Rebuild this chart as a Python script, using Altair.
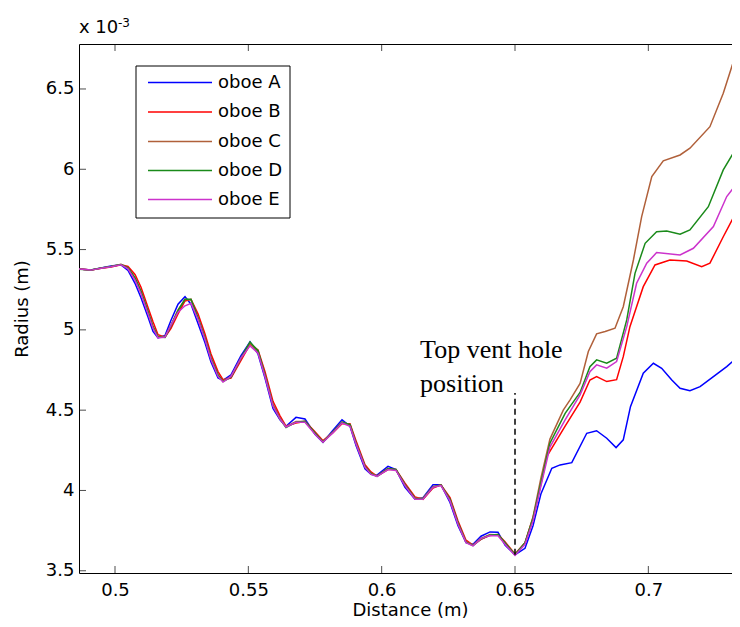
import altair as alt
import pandas as pd

# ---------------- data (radius in units of 1e-3 m) ----------------
series_names = ["oboe A", "oboe B", "oboe C", "oboe D", "oboe E"]
series_colors = ["#0000ff", "#ff0000", "#b0603a", "#1a8a1a", "#cc33cc"]

dist_common = [0.4865, 0.4910, 0.49475, 0.4985, 0.50225, 0.50488, 0.5075, 0.50975, 0.51238,
               0.51425, 0.51613, 0.51875, 0.521, 0.52363, 0.52625, 0.5285, 0.53113, 0.53375,
               0.536, 0.53863, 0.5405, 0.5435, 0.54725, 0.55063, 0.55363, 0.55625, 0.55925,
               0.56188, 0.56413, 0.56788, 0.57125, 0.575, 0.578, 0.58175, 0.58513, 0.58813,
               0.59038, 0.59375, 0.596, 0.59825, 0.60238, 0.60538, 0.60875, 0.6125, 0.6155,
               0.61925, 0.62225, 0.62563, 0.62863, 0.63163, 0.63425, 0.63725, 0.64063,
               0.64363, 0.64625, 0.65, 0.65375, 0.65675, 0.65975]

rad_A_common = [5.379, 5.373, 5.386, 5.397, 5.405, 5.37, 5.29, 5.20, 5.08, 4.99, 4.95, 4.965,
                5.06, 5.16, 5.207, 5.16, 5.04, 4.92, 4.80, 4.70, 4.685, 4.72, 4.84, 4.925,
                4.85, 4.70, 4.51, 4.44, 4.40, 4.455, 4.445, 4.35, 4.30, 4.375, 4.44, 4.40,
                4.28, 4.135, 4.10, 4.095, 4.15, 4.13, 4.02, 3.945, 3.955, 4.035, 4.035, 3.925,
                3.78, 3.675, 3.665, 3.715, 3.742, 3.74, 3.66, 3.60, 3.64, 3.78, 3.98]
rad_B_common = [5.379, 5.372, 5.383, 5.392, 5.406, 5.395, 5.345, 5.265, 5.14, 5.05, 4.97,
                4.955, 5.01, 5.10, 5.18, 5.19, 5.10, 4.975, 4.85, 4.74, 4.69, 4.70, 4.81,
                4.91, 4.875, 4.74, 4.555, 4.465, 4.40, 4.42, 4.43, 4.365, 4.31, 4.36, 4.415,
                4.415, 4.31, 4.16, 4.115, 4.09, 4.13, 4.13, 4.045, 3.96, 3.945, 4.015, 4.035,
                3.955, 3.81, 3.69, 3.66, 3.695, 3.72, 3.725, 3.68, 3.605, 3.675, 3.83, 4.04]
rad_C_common = [5.379, 5.373, 5.384, 5.394, 5.408, 5.384, 5.32, 5.238, 5.113, 5.02, 4.958,
                4.958, 5.03, 5.124, 5.19, 5.186, 5.072, 4.948, 4.823, 4.719, 4.682, 4.709,
                4.823, 4.917, 4.864, 4.719, 4.532, 4.45, 4.397, 4.429, 4.429, 4.356, 4.304,
                4.366, 4.425, 4.408, 4.294, 4.148, 4.107, 4.09, 4.138, 4.127, 4.034, 3.951,
                3.951, 4.024, 4.034, 3.941, 3.796, 3.681, 3.66, 3.702, 3.725, 3.723, 3.671,
                3.604, 3.671, 3.835, 4.08]
rad_D_common = [5.378, 5.373, 5.385, 5.394, 5.407, 5.386, 5.325, 5.24, 5.115, 5.02, 4.955,
                4.952, 5.025, 5.12, 5.19, 5.19, 5.075, 4.95, 4.825, 4.72, 4.678, 4.705, 4.825,
                4.925, 4.87, 4.72, 4.53, 4.445, 4.392, 4.425, 4.43, 4.358, 4.302, 4.362, 4.425,
                4.41, 4.296, 4.15, 4.105, 4.088, 4.135, 4.13, 4.036, 3.95, 3.948, 4.022, 4.034,
                3.944, 3.798, 3.678, 3.656, 3.698, 3.722, 3.725, 3.674, 3.60, 3.675, 3.825, 4.05]
rad_E_common = [5.379, 5.372, 5.383, 5.393, 5.405, 5.38, 5.31, 5.225, 5.10, 5.01, 4.95,
                4.955, 5.03, 5.11, 5.15, 5.165, 5.065, 4.94, 4.815, 4.71, 4.675, 4.71, 4.825,
                4.90, 4.855, 4.71, 4.525, 4.445, 4.395, 4.425, 4.425, 4.35, 4.30, 4.36, 4.42,
                4.40, 4.29, 4.145, 4.10, 4.088, 4.13, 4.125, 4.03, 3.945, 3.945, 4.02, 4.03,
                3.935, 3.79, 3.675, 3.655, 3.70, 3.72, 3.718, 3.665, 3.595, 3.665, 3.81, 4.03]

dist_A_tail = [0.6638, 0.6669, 0.6713, 0.6769, 0.6806, 0.6844, 0.6879, 0.6906, 0.6933,
               0.6981, 0.7019, 0.7050, 0.7088, 0.7119, 0.7156, 0.7194, 0.7244, 0.7294, 0.7337]
rad_A_tail = [4.138, 4.159, 4.173, 4.356, 4.372, 4.325, 4.267, 4.315, 4.522,
              4.73, 4.792, 4.761, 4.688, 4.636, 4.621, 4.646, 4.709, 4.771, 4.833]

dist_B_tail = [0.6619, 0.6688, 0.6744, 0.6781, 0.6806, 0.6844, 0.6881, 0.6906, 0.6931,
               0.6981, 0.7025, 0.7081, 0.7144, 0.7200, 0.7231, 0.7281, 0.7337]
rad_B_tail = [4.211, 4.40, 4.55, 4.688, 4.709, 4.678, 4.69, 4.833, 5.02,
              5.269, 5.404, 5.435, 5.429, 5.393, 5.415, 5.58, 5.757]

dist_C_tail = [0.6631, 0.6681, 0.6706, 0.6744, 0.6775, 0.6806, 0.6838, 0.6875, 0.6906,
               0.6944, 0.6975, 0.7013, 0.7056, 0.7119, 0.7156, 0.7231, 0.7281, 0.7337]
rad_C_tail = [4.32, 4.50, 4.563, 4.667, 4.865, 4.975, 4.99, 5.01, 5.144,
              5.435, 5.705, 5.954, 6.052, 6.089, 6.131, 6.265, 6.473, 6.763]

dist_D_tail = [0.6631, 0.6688, 0.6744, 0.6781, 0.6806, 0.6844, 0.6881, 0.6919, 0.6950,
               0.6988, 0.7031, 0.7069, 0.7119, 0.7156, 0.7225, 0.7281, 0.7344]
rad_D_tail = [4.294, 4.48, 4.61, 4.771, 4.813, 4.792, 4.823, 5.062, 5.352,
              5.539, 5.611, 5.615, 5.595, 5.622, 5.767, 5.996, 6.172]

dist_E_tail = [0.6631, 0.6688, 0.6744, 0.6781, 0.6806, 0.6844, 0.6881, 0.6919, 0.6956,
               0.6994, 0.7031, 0.7119, 0.7169, 0.7244, 0.7294, 0.7337]
rad_E_tail = [4.27, 4.44, 4.595, 4.74, 4.782, 4.761, 4.803, 5.02, 5.29,
              5.415, 5.481, 5.466, 5.508, 5.643, 5.83, 5.923]

x_ticks = [0.5, 0.55, 0.6, 0.65, 0.7]
y_ticks = [3.5, 4.0, 4.5, 5.0, 5.5, 6.0, 6.5]
x_domain = [0.4865, 0.73475]
y_domain = [3.486, 6.780]

vent_dist = [0.65, 0.65]
vent_rad = [3.60, 4.607]

annot_dist = [0.6144]
annot_rad = [4.825]
annot_text = ["Top vent hole\nposition"]

# ---------------- build tables ----------------
rows = []
for name, cy, tx, ty in [
    ("oboe A", rad_A_common, dist_A_tail, rad_A_tail),
    ("oboe B", rad_B_common, dist_B_tail, rad_B_tail),
    ("oboe C", rad_C_common, dist_C_tail, rad_C_tail),
    ("oboe D", rad_D_common, dist_D_tail, rad_D_tail),
    ("oboe E", rad_E_common, dist_E_tail, rad_E_tail),
]:
    for d, r in zip(dist_common + tx, cy + ty):
        rows.append({"series": name, "d": d, "r": r})
df = pd.DataFrame(rows)

FONT = "DejaVu Sans"
W, H = 662, 529
TICK = 7
xscale = alt.Scale(domain=x_domain, nice=False, zero=False)
yscale = alt.Scale(domain=y_domain, nice=False, zero=False)

lines = alt.Chart(df).mark_line(strokeWidth=1.5, clip=True).encode(
    x=alt.X("d:Q", scale=xscale,
            axis=alt.Axis(values=x_ticks, format="~g", title="Distance (m)",
                          domain=False, grid=False, ticks=True, tickSize=0, tickOpacity=0,
                          labelPadding=8, titleY=42, titleBaseline="alphabetic",
                          labelFont=FONT, titleFont=FONT, labelFontSize=18, titleFontSize=18,
                          labelColor="#000", titleColor="#000", titleFontWeight="normal")),
    y=alt.Y("r:Q", scale=yscale,
            axis=alt.Axis(values=y_ticks, format="~g", title="Radius (m)",
                          domain=False, grid=False, ticks=True, tickSize=0, tickOpacity=0,
                          labelPadding=5, titlePadding=14, labelFont=FONT,
                          titleFont=FONT, labelFontSize=18, titleFontSize=18,
                          labelColor="#000", titleColor="#000", titleFontWeight="normal")),
    color=alt.Color("series:N", scale=alt.Scale(domain=series_names, range=series_colors),
                    legend=None),
)

# inward-pointing tick marks (bottom, top, left)
xt_df = pd.DataFrame({"d": x_ticks})
yt_df = pd.DataFrame({"r": y_ticks})
tick_bottom = alt.Chart(xt_df).mark_tick(color="#000", thickness=1, size=TICK,
                                         orient="vertical").encode(
    x=alt.X("d:Q", scale=xscale, axis=None), y=alt.value(H - TICK / 2))
tick_top = alt.Chart(xt_df).mark_tick(color="#000", thickness=1, size=TICK,
                                      orient="vertical").encode(
    x=alt.X("d:Q", scale=xscale, axis=None), y=alt.value(TICK / 2))
tick_left = alt.Chart(yt_df).mark_tick(color="#000", thickness=1, size=TICK,
                                       orient="horizontal").encode(
    y=alt.Y("r:Q", scale=yscale, axis=None), x=alt.value(TICK / 2))

vent = alt.Chart(pd.DataFrame({"d": vent_dist, "r": vent_rad})).mark_line(
    color="#000", strokeWidth=1.5, strokeDash=[6, 4]).encode(
    x=alt.X("d:Q", scale=xscale, axis=None),
    y=alt.Y("r:Q", scale=yscale, axis=None),
)

annot = alt.Chart(pd.DataFrame({"d": annot_dist, "r": annot_rad, "t": annot_text})).mark_text(
    align="left", baseline="alphabetic", font="Liberation Serif", fontSize=26,
    lineBreak="\n", lineHeight=34, color="#000").encode(
    x=alt.X("d:Q", scale=xscale, axis=None),
    y=alt.Y("r:Q", scale=yscale, axis=None),
    text="t:N",
)

one = pd.DataFrame({"k": [0]})
exp_a = alt.Chart(one).mark_text(align="left", baseline="alphabetic", font=FONT,
                                 fontSize=18, color="#000").encode(
    x=alt.value(0), y=alt.value(-11), text=alt.value("x 10"))
exp_b = alt.Chart(one).mark_text(align="left", baseline="alphabetic", font=FONT,
                                 fontSize=12, color="#000").encode(
    x=alt.value(39), y=alt.value(-17), text=alt.value("-3"))

legend_box = alt.Chart(one).mark_rect(fill="white", stroke="#000", strokeWidth=1).encode(
    x=alt.value(57), x2=alt.value(211), y=alt.value(22), y2=alt.value(174))

legend_layers = [legend_box]
row_y = [38.5, 68, 97.5, 126.5, 155.5]
for name, col, yy in zip(series_names, series_colors, row_y):
    legend_layers.append(alt.Chart(one).mark_rule(color=col, strokeWidth=1.5).encode(
        x=alt.value(69), x2=alt.value(133), y=alt.value(yy)))
    legend_layers.append(alt.Chart(one).mark_text(
        align="left", baseline="middle", font=FONT, fontSize=18, color="#000").encode(
        x=alt.value(139), y=alt.value(yy), text=alt.value(name)))

chart = alt.layer(
    lines, tick_bottom, tick_top, tick_left, vent, annot, exp_a, exp_b, *legend_layers
).resolve_axis(x="independent", y="independent").properties(
    width=W, height=H, background="white",
    autosize=alt.AutoSizeParams(type="none"),
    padding={"left": 71, "top": 36, "right": -9, "bottom": 46},
).configure_view(stroke="#000", strokeWidth=1)

chart.save("out.html", embed_options={"renderer": "svg", "actions": False})
